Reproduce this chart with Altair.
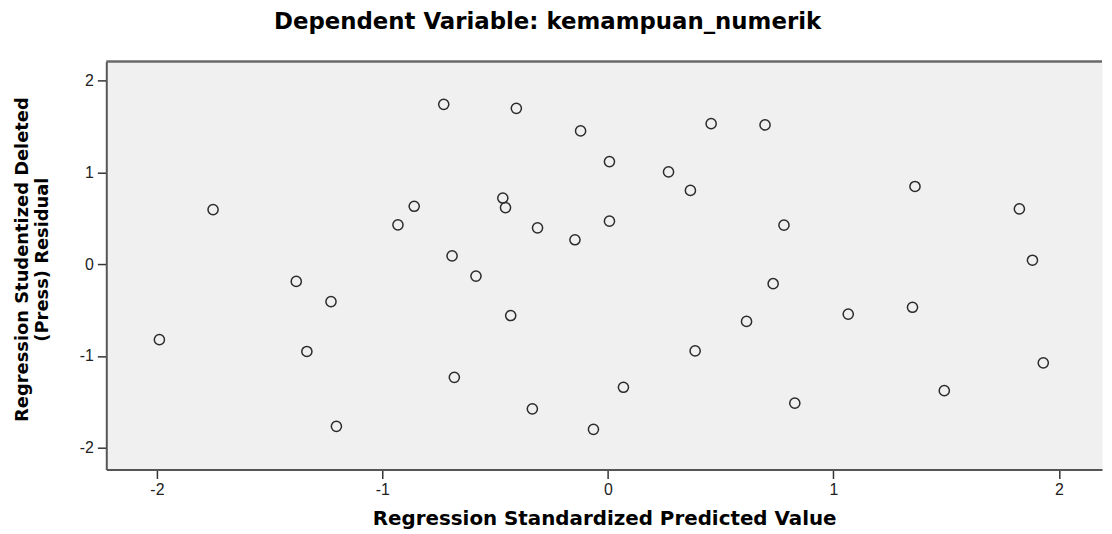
import altair as alt
import pandas as pd

# Regression Standardized Predicted Value
pred = [-0.728, -0.406, -0.121, 0.458, 0.697, 0.007, 0.269, 0.366, 1.362,
        -1.751, -0.859, -0.931, -0.466, -0.454, -0.312, -0.146, 0.007, 0.781,
        1.825, -0.691, 1.883, -0.585, -1.382, -1.228, -0.431, -1.989, -1.335,
        -0.681, -0.335, -1.204, -0.064, 0.733, 0.615, 1.066, 1.351, 0.387,
        0.069, 1.931, 0.829, 1.492]
# Regression Studentized Deleted (Press) Residual
resid = [1.742, 1.699, 1.453, 1.532, 1.518, 1.118, 1.006, 0.804, 0.847,
         0.595, 0.631, 0.429, 0.721, 0.617, 0.396, 0.266, 0.469, 0.425,
         0.602, 0.090, 0.043, -0.130, -0.188, -0.408, -0.560, -0.823, -0.952,
         -1.234, -1.577, -1.768, -1.801, -0.213, -0.624, -0.545, -0.470, -0.946,
         -1.342, -1.076, -1.515, -1.379]

x_ticks = [-2, -1, 0, 1, 2]
y_ticks = [-2, -1, 0, 1, 2]
x_domain = [-2.2246, 2.1915]
y_domain = [-2.239, 2.209]

W, H = 1003, 411

df = pd.DataFrame({"pred": pred, "resid": resid})

tick_font = "Liberation Sans Narrow, Liberation Sans, Arial"
title_font = "DejaVu Sans"

points = alt.Chart(df).mark_point(
    shape="circle", filled=False, size=105, stroke="#2b2b2b", strokeWidth=1.5, opacity=1
).encode(
    x=alt.X("pred:Q",
            scale=alt.Scale(domain=x_domain, nice=False, zero=False),
            axis=alt.Axis(values=x_ticks, labelExpr="datum.value + ''", grid=False,
                          title="Regression Standardized Predicted Value",
                          titleFont=title_font, titleFontSize=20, titleFontWeight="bold",
                          titleColor="#000", titleBaseline="alphabetic", titleY=55,
                          labelFont=tick_font, labelFontSize=16, labelColor="#222",
                          labelPadding=3, tickSize=9, tickColor="#333", tickWidth=1.5,
                          domainColor="#555", domainWidth=2)),
    y=alt.Y("resid:Q",
            scale=alt.Scale(domain=y_domain, nice=False, zero=False),
            axis=alt.Axis(values=y_ticks, labelExpr="datum.value + ''", grid=False,
                          title=["Regression Studentized Deleted", "(Press) Residual"],
                          titleFont=title_font, titleFontSize=18, titleFontWeight="bold",
                          titleColor="#000", titleAngle=-90, titleX=-84, titleY=199,
                          titleAlign="center", titleBaseline="middle",
                          labelFont=tick_font, labelFontSize=16, labelColor="#222",
                          labelPadding=4, tickSize=9, tickColor="#333", tickWidth=1.5,
                          domainColor="#555", domainWidth=2)),
)

top_line = alt.Chart(pd.DataFrame({"a": [0]})).mark_rule(
    color="#6a6a6a", strokeWidth=2.5
).encode(x=alt.value(0), x2=alt.value(W), y=alt.value(0))

chart = alt.layer(top_line, points).properties(
    width=W, height=H,
    title=alt.TitleParams("Dependent Variable: kemampuan_numerik",
                          font=title_font, fontSize=23, fontWeight="bold", color="#000",
                          anchor="middle", baseline="alphabetic", offset=32, dx=-57, dy=23),
    autosize=alt.AutoSizeParams(type="none"),
    padding={"left": 99, "top": 52, "right": 2, "bottom": 63},
    background="#ffffff",
).configure_view(fill="#F0F0F0", strokeOpacity=0)

chart.save("out.html", embed_options={"renderer": "svg", "actions": False})
